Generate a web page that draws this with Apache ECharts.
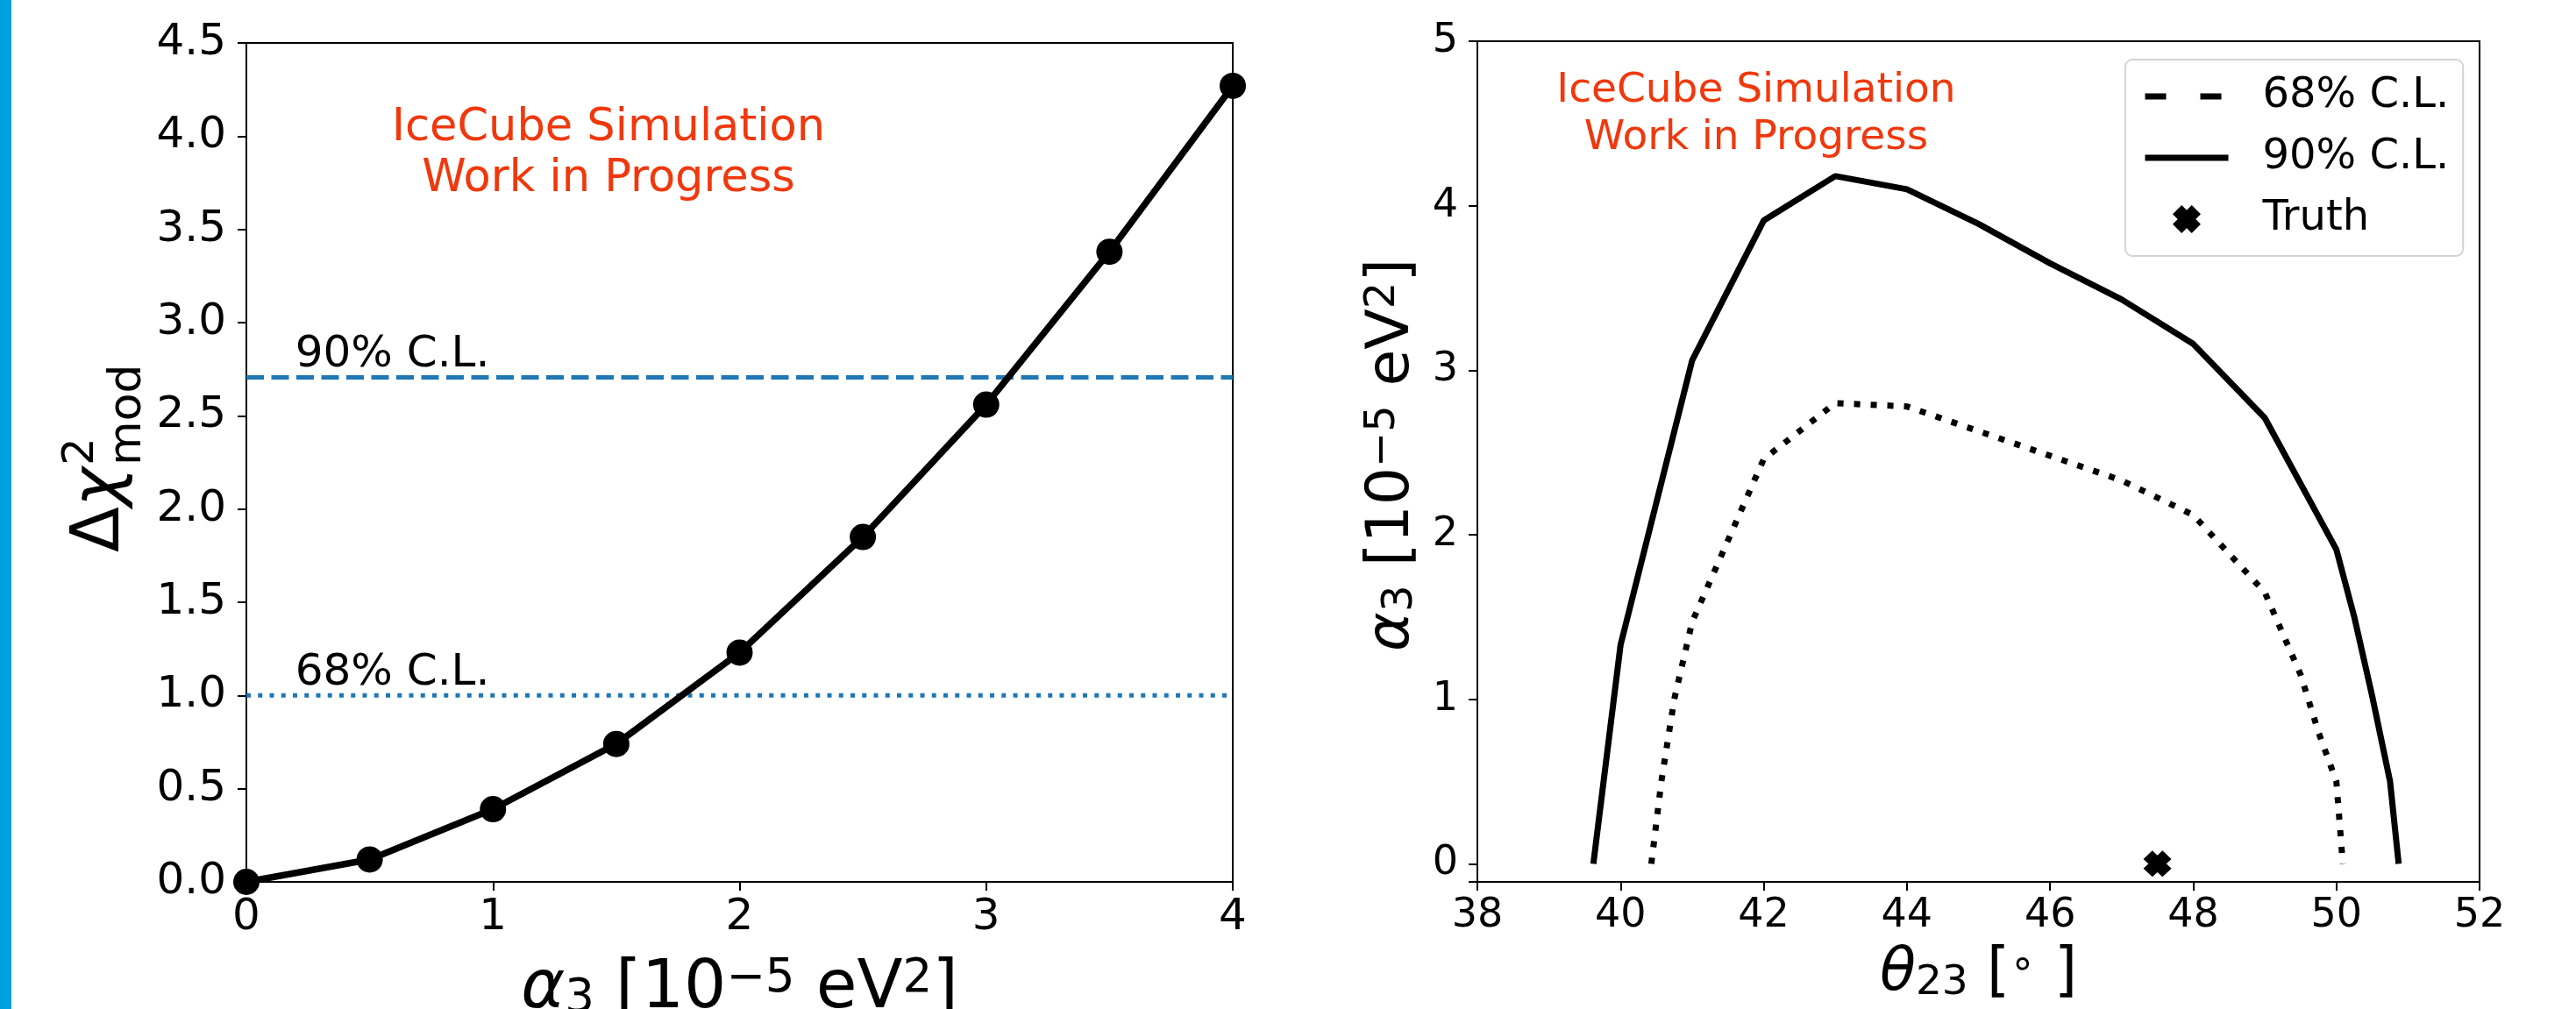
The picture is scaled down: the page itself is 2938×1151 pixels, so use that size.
<!DOCTYPE html>
<html>
<head>
<meta charset="utf-8">
<script src="https://cdn.jsdelivr.net/npm/echarts@6/dist/echarts.min.js"></script>
<style>
  html, body { margin: 0; padding: 0; background: #fff; }
  #chart { width: 2938px; height: 1151px; }
</style>
</head>
<body>
<div id="chart"></div>
<script>
// left panel: chi2 scan in alpha_3
const alphaScan = [0, 0.5, 1, 1.5, 2, 2.5, 3, 3.5, 4];
const deltaChi2 = [0, 0.12, 0.39, 0.74, 1.23, 1.85, 2.56, 3.38, 4.27];
const clLevels = [2.706, 1.0];
const clLabels = ['90% C.L.', '68% C.L.'];

// right panel: contours in (theta_23, alpha_3)
const theta90 = [39.62, 40, 41, 42, 43, 44, 45, 46, 47, 48, 49, 50, 50.25, 50.5, 50.75, 50.87];
const alpha90 = [0, 1.33, 3.06, 3.91, 4.18, 4.10, 3.89, 3.65, 3.43, 3.16, 2.71, 1.91, 1.50, 1.02, 0.50, 0];
const theta68 = [40.43, 40.57, 40.75, 41, 42, 43, 44, 45, 46, 47, 48, 49, 49.5, 49.75, 50, 50.09];
const alpha68 = [0, 0.5, 1.0, 1.47, 2.46, 2.80, 2.78, 2.63, 2.48, 2.33, 2.12, 1.65, 1.15, 0.80, 0.50, 0];
const truthTheta = [47.5];
const truthAlpha = [0];

const FONT = 'DejaVu Sans';
const RED = '#f0380c';
const BLUE = '#1f77b4';
const X_MARK = 'path://M0,3.2L3.2,0L5,1.8L6.8,0L10,3.2L8.2,5L10,6.8L6.8,10L5,8.2L3.2,10L0,6.8L1.8,5Z';

const zip = (xs, ys) => xs.map((x, i) => [x, ys[i]]);

// rich styles for sub/superscripts in axis titles
function mathRich(F) {
  const s = Math.round(F * 0.7);
  return {
    b: { fontSize: F, lineHeight: F, fontFamily: FONT, color: '#000' },
    i: { fontSize: F, lineHeight: F, fontFamily: FONT, fontStyle: 'italic', color: '#000' },
    sub: { fontSize: s, lineHeight: Math.round(F * 0.4), verticalAlign: 'bottom', fontFamily: FONT, color: '#000' },
    sup: { fontSize: s, lineHeight: Math.round(F * 0.5), verticalAlign: 'top', fontFamily: FONT, color: '#000' }
  };
}
function mathRichFill(F) {
  // same as mathRich but for graphic text (uses fill)
  const r = mathRich(F);
  Object.keys(r).forEach(k => { r[k].fill = r[k].color; });
  return r;
}
const alphaTitle = '{i|α}{sub|3}{b| [10}{sup|−5}{b| eV}{sup|2}{b|]}';

function axisCommon(fontSize, margin) {
  return {
    type: 'value',
    axisLine: { show: false, onZero: false },
    axisTick: { show: true, length: 10, lineStyle: { color: '#000', width: 2 } },
    axisLabel: { fontSize: fontSize, fontFamily: FONT, color: '#000', margin: margin, showMinLabel: true, showMaxLabel: true },
    splitLine: { show: false }
  };
}

const chart = echarts.init(document.getElementById('chart'));

const leftY = axisCommon(50, 23);
leftY.axisLabel.formatter = v => v.toFixed(1);
const rightY = axisCommon(46, 22);
// the axis starts a bit below 0; only whole numbers get a label
rightY.axisLabel.formatter = v => (Number.isInteger(v) ? String(v) : '');

const option = {
  animation: false,
  backgroundColor: '#fff',
  grid: [
    { left: 281, top: 49, width: 1125, height: 957, outerBoundsMode: 'none', containLabel: false,
      show: true, borderColor: '#000', borderWidth: 2, backgroundColor: 'transparent' },
    { left: 1685, top: 47, width: 1143, height: 959, outerBoundsMode: 'none', containLabel: false,
      show: true, borderColor: '#000', borderWidth: 2, backgroundColor: 'transparent' }
  ],
  xAxis: [
    Object.assign(axisCommon(50, 16), {
      gridIndex: 0, min: 0, max: 4, interval: 1,
      name: alphaTitle, nameLocation: 'middle', nameGap: 85,
      nameTextStyle: { rich: mathRich(76) }
    }),
    Object.assign(axisCommon(46, 16), {
      gridIndex: 1, min: 38, max: 52, interval: 2,
      name: '{i|θ}{sub|23}{b| [}{sup|∘}{b| ]}', nameLocation: 'middle', nameGap: 72,
      nameTextStyle: { rich: mathRich(67) }
    })
  ],
  yAxis: [
    Object.assign(leftY, { gridIndex: 0, min: 0, max: 4.5, interval: 0.5 }),
    Object.assign(rightY, { gridIndex: 1, min: -0.11, max: 5 })
  ],
  legend: {
    orient: 'vertical',
    left: 2424, top: 68,
    padding: [18, 16, 18, 19],
    itemWidth: 95, itemHeight: 32, itemGap: 22,
    backgroundColor: '#fff', borderColor: '#d4d4d4', borderWidth: 2, borderRadius: 8,
    selectedMode: false,
    formatter: name => '{g|}' + name,
    textStyle: { fontFamily: FONT, fontSize: 48, lineHeight: 48, color: '#000', rich: { g: { width: 34 } } },
    data: [
      { name: '68% C.L.', lineStyle: { type: [24, 39, 24, 100], width: 7, cap: 'butt' }, itemStyle: { opacity: 0 } },
      { name: '90% C.L.', lineStyle: { width: 7 }, itemStyle: { opacity: 0 } },
      { name: 'Truth', icon: X_MARK, itemStyle: { color: '#000' } }
    ]
  },
  graphic: [
    { type: 'rect', shape: { x: 0, y: 0, width: 13, height: 1151 }, style: { fill: '#00a0de' } },
    {
      type: 'text', x: 694, y: 176,
      style: { text: 'IceCube Simulation\nWork in Progress', fill: RED, fontSize: 51, fontFamily: FONT, lineHeight: 58, align: 'center', verticalAlign: 'middle' }
    },
    {
      type: 'text', x: 2003, y: 131,
      style: { text: 'IceCube Simulation\nWork in Progress', fill: RED, fontSize: 47, fontFamily: FONT, lineHeight: 54, align: 'center', verticalAlign: 'middle' }
    },
    {
      // left y title: delta chi^2_mod, rotated
      type: 'group', x: 115, y: 528, rotation: Math.PI / 2,
      children: [
        { type: 'text', x: -102, y: 0, style: { text: '{u|Δ}{it|χ}', align: 'left', verticalAlign: 'middle',
          rich: { u: { fontSize: 76, fontFamily: FONT, fill: '#000' }, it: { fontSize: 76, fontFamily: FONT, fontStyle: 'italic', fill: '#000' } } } },
        { type: 'text', x: -3, y: -22, style: { text: '2', fontSize: 50, fontFamily: FONT, fill: '#000', align: 'left', verticalAlign: 'middle' } },
        { type: 'text', x: -3, y: 31, style: { text: 'mod', fontSize: 52, fontFamily: FONT, fill: '#000', align: 'left', verticalAlign: 'middle' } }
      ]
    },
    {
      // right y title: alpha_3 [10^-5 eV^2], rotated
      type: 'group', x: 1588, y: 519, rotation: Math.PI / 2,
      children: [
        { type: 'text', x: 0, y: 0, style: { text: alphaTitle, align: 'center', verticalAlign: 'middle', rich: mathRichFill(68) } }
      ]
    }
  ],
  series: [
    {
      name: 'scan', type: 'line', xAxisIndex: 0, yAxisIndex: 0,
      data: zip(alphaScan, deltaChi2),
      symbol: 'circle', symbolSize: 30, clip: true, z: 5,
      lineStyle: { color: '#000', width: 7.5 },
      itemStyle: { color: '#000' }
    },
    {
      name: 'level90', type: 'line', xAxisIndex: 0, yAxisIndex: 0,
      data: [[alphaScan[0], clLevels[0]], [alphaScan[alphaScan.length - 1], clLevels[0]]],
      symbol: 'none', z: 3,
      lineStyle: { color: BLUE, width: 5, type: [20, 8.5], cap: 'butt' },
      markPoint: {
        symbol: 'circle', symbolSize: 1, itemStyle: { color: 'transparent' },
        data: [{ coord: [0.2, clLevels[0]] }],
        label: { show: true, formatter: clLabels[0], position: [0, 0], align: 'left', verticalAlign: 'bottom', fontSize: 50, fontFamily: FONT, color: '#000' }
      }
    },
    {
      name: 'level68', type: 'line', xAxisIndex: 0, yAxisIndex: 0,
      data: [[alphaScan[0], clLevels[1]], [alphaScan[alphaScan.length - 1], clLevels[1]]],
      symbol: 'none', z: 3,
      lineStyle: { color: BLUE, width: 5, type: [5, 8.25], cap: 'butt' },
      markPoint: {
        symbol: 'circle', symbolSize: 1, itemStyle: { color: 'transparent' },
        data: [{ coord: [0.2, clLevels[1]] }],
        label: { show: true, formatter: clLabels[1], position: [0, 0], align: 'left', verticalAlign: 'bottom', fontSize: 50, fontFamily: FONT, color: '#000' }
      }
    },
    {
      name: '68% C.L.', type: 'line', xAxisIndex: 1, yAxisIndex: 1,
      data: zip(theta68, alpha68),
      symbol: 'none', clip: true,
      lineStyle: { color: '#000', width: 7, type: [7, 12], cap: 'butt' },
      itemStyle: { color: '#000' }
    },
    {
      name: '90% C.L.', type: 'line', xAxisIndex: 1, yAxisIndex: 1,
      data: zip(theta90, alpha90),
      symbol: 'none', clip: true,
      lineStyle: { color: '#000', width: 7 },
      itemStyle: { color: '#000' }
    },
    {
      name: 'Truth', type: 'scatter', xAxisIndex: 1, yAxisIndex: 1,
      data: zip(truthTheta, truthAlpha),
      symbol: X_MARK, symbolSize: [32, 30], z: 6,
      itemStyle: { color: '#000', opacity: 1 }
    }
  ]
};

chart.setOption(option);
</script>
</body>
</html>
